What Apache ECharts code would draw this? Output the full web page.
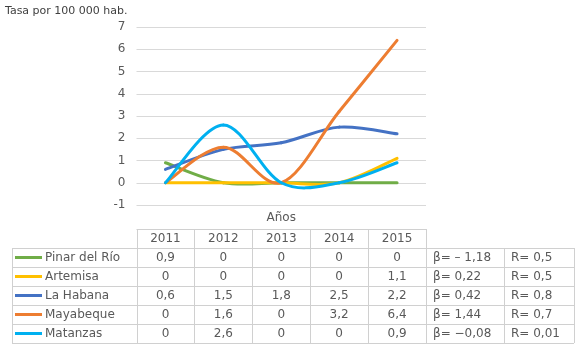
<!DOCTYPE html>
<html>
<head>
<meta charset="utf-8">
<script src="https://cdn.jsdelivr.net/npm/echarts@6/dist/echarts.min.js"></script>
<style>
  html, body { margin: 0; padding: 0; background: #fff; }
  #box { width: 580px; height: 351px; }
</style>
</head>
<body>
<div id="box"></div>
<script>
var years = ['2011', '2012', '2013', '2014', '2015'];
var provincias = ['Pinar del Río', 'Artemisa', 'La Habana', 'Mayabeque', 'Matanzas'];
var colores = ['#70AD47', '#FFC000', '#4472C4', '#ED7D31', '#00B0F0'];
var pinar = [0.9, 0, 0, 0, 0];
var artemisa = [0, 0, 0, 0, 1.1];
var habana = [0.6, 1.5, 1.8, 2.5, 2.2];
var mayabeque = [0, 1.6, 0, 3.2, 6.4];
var matanzas = [0, 2.6, 0, 0, 0.9];
var betas = ['β= – 1,18', 'β= 0,22', 'β= 0,42', 'β= 1,44', 'β= −0,08'];
var erres = ['R= 0,5', 'R= 0,5', 'R= 0,8', 'R= 0,7', 'R= 0,01'];
var yTicks = [-1, 0, 1, 2, 3, 4, 5, 6, 7];

var valores = [pinar, artemisa, habana, mayabeque, matanzas];

var fuente = 'Verdana, "DejaVu Sans", sans-serif';
var gris = '#595959';
var borde = '#D0D0D0';

// geometria de la tabla
var gLeft = 136.5, gRight = 154, colW = (580 - gLeft - gRight) / years.length;
var tTop = 229, rowH = 19, tLeft = 12;
var betaW = 78, rW = 70;

function num(v) {
    return String(v).replace('.', ',');
}

var graphic = [];
function linea(x1, y1, x2, y2) {
    graphic.push({type: 'line', silent: true,
        shape: {x1: x1, y1: y1, x2: x2, y2: y2},
        style: {stroke: borde, lineWidth: 1}});
}
function texto(t, x, y, align) {
    graphic.push({type: 'text', silent: true, x: x, y: y,
        style: {text: t, font: '12px ' + fuente, fill: gris, align: align || 'center', verticalAlign: 'middle'}});
}

var tRight = gLeft + colW * years.length;
var bodyTop = tTop + rowH;
var bodyBot = bodyTop + rowH * provincias.length;
// cabecera
linea(gLeft, tTop + 0.5, tRight, tTop + 0.5);
years.forEach(function (y, i) {
    texto(y, gLeft + colW * (i + 0.5), tTop + rowH / 2);
});
// filas
for (var r = 0; r <= provincias.length; r++) {
    var yy = Math.round(bodyTop + rowH * r) + 0.5;
    linea(tLeft, yy, tRight + betaW + rW, yy);
}
// verticales
var xs = [tLeft];
for (var c = 0; c <= years.length; c++) xs.push(gLeft + colW * c);
xs.push(tRight + betaW, tRight + betaW + rW);
xs.forEach(function (x, k) {
    var top = (k >= 1 && k <= years.length + 1) ? tTop : bodyTop;
    linea(Math.round(x) + 0.5, top, Math.round(x) + 0.5, bodyBot);
});
provincias.forEach(function (p, r) {
    var cy = bodyTop + rowH * (r + 0.5);
    graphic.push({type: 'line', silent: true,
        shape: {x1: 15, y1: cy, x2: 42, y2: cy},
        style: {stroke: colores[r], lineWidth: 3}});
    texto(p, 45, cy, 'left');
    valores[r].forEach(function (v, i) {
        texto(num(v), gLeft + colW * (i + 0.5), cy);
    });
    texto(betas[r], tRight + 7, cy, 'left');
    texto(erres[r], tRight + betaW + 7, cy, 'left');
});
graphic.push({type: 'text', silent: true, x: 5, y: 11,
    style: {text: 'Tasa por 100 000 hab.', font: '11px ' + fuente, fill: '#404040', verticalAlign: 'middle'}});
graphic.push({type: 'text', silent: true, x: gLeft + colW * 2.5, y: 218,
    style: {text: 'Años', font: '12px ' + fuente, fill: gris, align: 'center', verticalAlign: 'middle'}});

var myChart = echarts.init(document.getElementById('box'));

// curva suavizada tipo Excel (Catmull-Rom), un tramo por punto
function tramo(color) {
    return function (params, api) {
        var i = params.dataIndexInside, n = params.dataInsideLength;
        if (i >= n - 1) return;
        var pt = function (k) {
            k = Math.max(0, Math.min(n - 1, k));
            return api.coord([k, api.value(1, k)]);
        };
        var p0 = pt(i - 1), p1 = pt(i), p2 = pt(i + 1), p3 = pt(i + 2);
        var t = 1 / 6;
        return {
            type: 'bezierCurve',
            shape: {
                x1: p1[0], y1: p1[1], x2: p2[0], y2: p2[1],
                cpx1: p1[0] + (p2[0] - p0[0]) * t, cpy1: p1[1] + (p2[1] - p0[1]) * t,
                cpx2: p2[0] - (p3[0] - p1[0]) * t, cpy2: p2[1] - (p3[1] - p1[1]) * t
            },
            style: {stroke: color, lineWidth: 3, fill: null, lineCap: 'round'}
        };
    };
}

var series = provincias.map(function (p, i) {
    return {
        name: p,
        type: 'custom',
        renderItem: tramo(colores[i]),
        data: valores[i].map(function (v, k) { return [k, v]; }),
        encode: {x: 0, y: 1},
        clip: false
    };
});

option = {
    animation: false,
    grid: {left: gLeft, right: gRight, top: 27, bottom: 146},
    xAxis: {
        type: 'category',
        data: years,
        boundaryGap: true,
        axisLine: {show: false},
        axisTick: {show: false},
        axisLabel: {show: false}
    },
    yAxis: {
        type: 'value',
        min: yTicks[0],
        max: yTicks[yTicks.length - 1],
        interval: 1,
        axisLine: {show: false},
        axisTick: {show: false},
        axisLabel: {color: gris, fontSize: 12, fontFamily: fuente, margin: 11},
        splitLine: {lineStyle: {color: '#D9D9D9', width: 1}}
    },
    graphic: graphic,
    series: series
};
myChart.setOption(option);
</script>
</body>
</html>
